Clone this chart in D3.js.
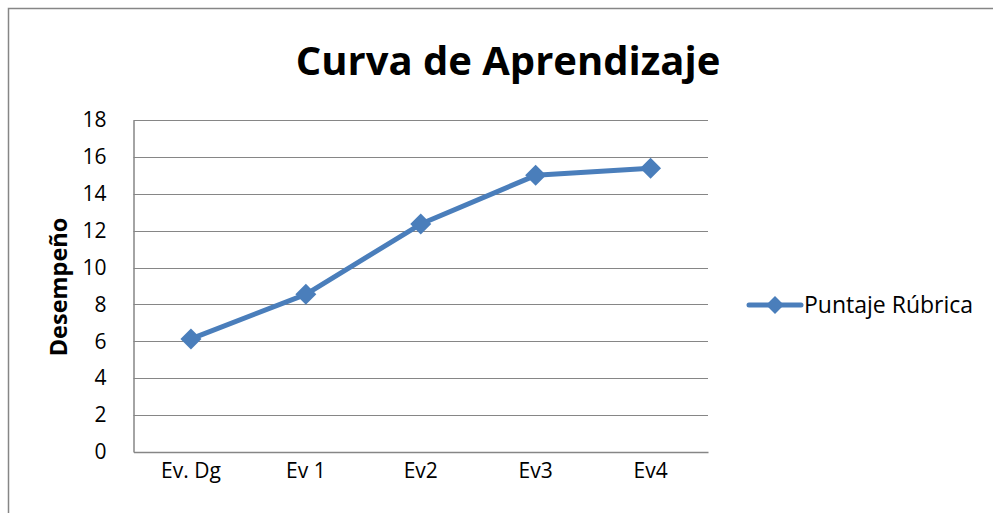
<!DOCTYPE html>
<html><head><meta charset="utf-8">
<script src="https://cdn.jsdelivr.net/npm/d3@7"></script>
<style>body{margin:0;background:#fff}svg{display:block}text{font-family:"Open Sans",sans-serif;fill:#000}</style>
</head><body><svg id="c" width="993" height="513"></svg>
<script>
const categories = ["Ev. Dg","Ev 1","Ev2","Ev3","Ev4"];
const values = [6.13, 8.55, 12.36, 15.0, 15.38];
const yTicks = [0,2,4,6,8,10,12,14,16,18];
const seriesName = "Puntaje Rúbrica";
const title = "Curva de Aprendizaje";
const yLabel = "Desempeño";

const svg = d3.select("#c");
const m = {l:133.5, r:708, t:120, b:452};
const x = d3.scaleBand().domain(categories).range([m.l, m.r]);
const y = d3.scaleLinear().domain([0,18]).range([m.b, m.t]);
const gray = "#868686", blue = "#4A7EBB";

svg.append("path").attr("d","M8.5,513 V8.5 H993").attr("fill","none").attr("stroke",gray).attr("stroke-width",1.5);

svg.append("text").attr("x",508).attr("y",75).attr("text-anchor","middle")
  .style("font-size","40px").attr("font-weight","bold").text(title);

svg.append("g").selectAll("line").data(yTicks.filter(d=>d>0)).join("line")
  .attr("x1",m.l).attr("x2",m.r).attr("y1",d=>Math.round(y(d))+0.5).attr("y2",d=>Math.round(y(d))+0.5)
  .attr("stroke",gray).attr("stroke-width",1.2);

const ya = svg.append("g").attr("transform",`translate(${m.l},0)`).call(d3.axisLeft(y).tickValues(yTicks).tickSize(0).tickPadding(27));
ya.select(".domain").attr("stroke",gray).attr("stroke-width",1.5);
ya.attr("font-size",null).attr("font-family",null);
ya.selectAll("text").style("font-size","21px");

const xa = svg.append("g").attr("transform",`translate(0,${m.b})`).call(d3.axisBottom(x).tickSize(0).tickPadding(0));
xa.select(".domain").attr("stroke",gray).attr("stroke-width",1.5);
xa.attr("font-size",null).attr("font-family",null);
xa.selectAll("text").attr("dy",null).attr("y",26).style("font-size","21px");

svg.append("text").attr("transform","translate(67,287) rotate(-90)").attr("text-anchor","middle")
  .style("font-size","23.5px").attr("font-weight","bold").text(yLabel);

const line = d3.line().x((d,i)=>x(categories[i])+x.bandwidth()/2).y(d=>y(d));
svg.append("path").datum(values).attr("d",line).attr("fill","none").attr("stroke",blue).attr("stroke-width",5).attr("stroke-linejoin","round");
const diamond = d3.symbol().type(d3.symbolSquare).size(220);
svg.append("g").selectAll("path").data(values).join("path")
  .attr("transform",(d,i)=>`translate(${x(categories[i])+x.bandwidth()/2},${y(d)}) rotate(45)`)
  .attr("d",diamond).attr("fill",blue);

const lg = svg.append("g").attr("transform","translate(0,305)");
lg.append("line").attr("x1",749).attr("x2",801).attr("y1",0).attr("y2",0).attr("stroke",blue).attr("stroke-width",5).attr("stroke-linecap","round");
lg.append("path").attr("transform","translate(775,0) rotate(45)").attr("d",d3.symbol().type(d3.symbolSquare).size(160)).attr("fill",blue);
lg.append("text").attr("x",804).attr("y",7.7).style("font-size","23px").text(seriesName);
</script></body></html>
